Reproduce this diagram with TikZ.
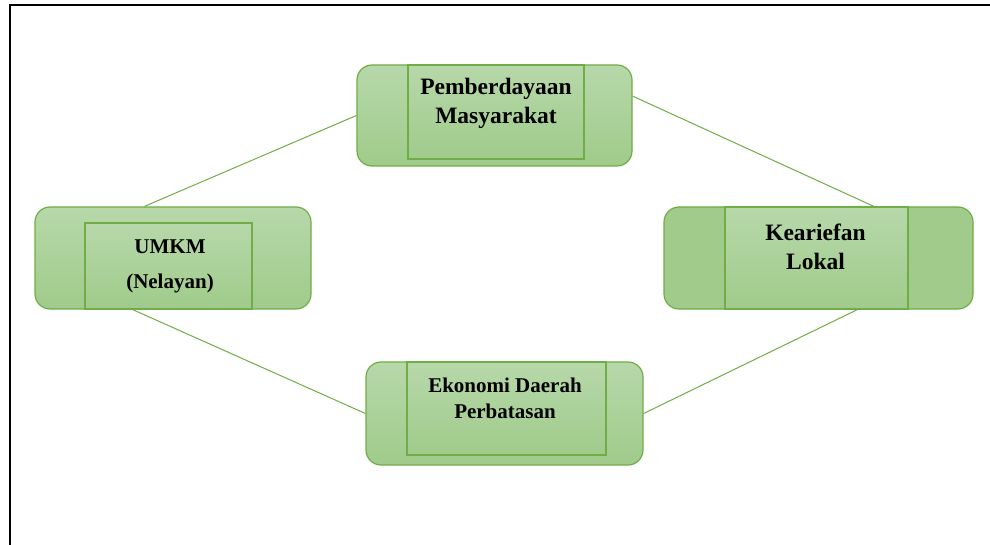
\documentclass[tikz,border=0pt]{standalone}
\usepackage{fontspec}
\setmainfont{Liberation Serif}
\definecolor{boxtop}{RGB}{183,216,170}
\definecolor{boxbot}{RGB}{160,203,139}
\definecolor{boxline}{RGB}{112,173,71}
\tikzset{
	outerbox/.style={draw=boxline, rectangle, rounded corners=15pt, inner sep=0pt, line width=1.2pt, top color=boxtop, bottom color=boxbot},
	innerbox/.style={draw=boxline, rectangle, inner sep=0pt, line width=1.2pt, top color=boxtop, bottom color=boxbot},
	% text inside the boxes
	boxtext/.style={inner sep=0pt, align=center, font=\bfseries\fontsize{23.5}{29}\selectfont},
}

\begin{document}
\begin{tikzpicture}[x=1pt, y=-1pt]
	\useasboundingbox (0,0) rectangle (990,545);
	\draw[line width=1.5pt] (10,545) -- (10,5) -- (990,5);
	
	\node (pm) [outerbox, minimum width=275pt, minimum height=101pt] at (494.5,115.5) {};
	\node (pm-in) [innerbox, minimum width=176pt, minimum height=94pt] at (496,112) {};
	\node (pm-txt) [boxtext] at (496,103) {Pemberdayaan\\Masyarakat};
	
	\node (um) [outerbox, minimum width=276pt, minimum height=102pt] at (173,258) {};
	\node (um-in) [innerbox, minimum width=167pt, minimum height=86pt] at (168.5,266) {};
	\node (um-txt) [boxtext, font=\bfseries\fontsize{21}{35}\selectfont] at (170,266) {UMKM\\(Nelayan)};
	
	\node (ka) [outerbox, fill=boxbot, top color=boxbot, minimum width=309pt, minimum height=102pt] at (818.5,258) {};
	\node (ka-in) [innerbox, minimum width=183pt, minimum height=102pt] at (816.5,258) {};
	\node (ka-txt) [boxtext] at (815.5,247) {Keariefan\\Lokal};
	
	\node (ek) [outerbox, minimum width=277pt, minimum height=103pt] at (504.5,413.5) {};
	\node (ek-in) [innerbox, minimum width=199pt, minimum height=93pt] at (506.5,408.5) {};
	\node (ek-txt) [boxtext, font=\bfseries\fontsize{21}{26}\selectfont] at (505,398) {Ekonomi Daerah\\Perbatasan};
	
	\begin{scope}[boxline, line width=1pt]
		\draw (pm.west) -- (um.119);
		\draw (pm.8) -- (ka.43);
		\draw (um.232) -- (ek.west);
		\draw (ka.307) -- (ek.east);
	\end{scope}
	
\end{tikzpicture}
\end{document}
